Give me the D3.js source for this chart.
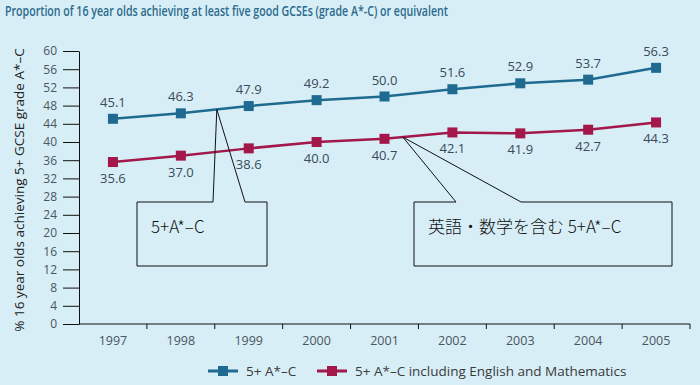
<!DOCTYPE html>
<html lang="en">
<head>
    <meta charset="UTF-8">
    <title>GCSE A*-C proportion</title>
    <style>
        body { margin: 0; background: #d7eef6; }
        .tick text { font-family: "Open Sans", sans-serif; font-size: 12px; fill: #4a5560; }
        .value { font-family: "Open Sans", sans-serif; font-size: 13px; fill: #3a4a5a; }
    </style>
    <script src="https://d3js.org/d3.v7.min.js"></script>
</head>
<body>
    <div id="chart"></div>
    <script>
        const width = 700;
        const height = 385;

        // data
        const years = ["1997", "1998", "1999", "2000", "2001", "2002", "2003", "2004", "2005"];
        const allGrades = [45.1, 46.3, 47.9, 49.2, 50.0, 51.6, 52.9, 53.7, 56.3];
        const withEngMaths = [35.6, 37.0, 38.6, 40.0, 40.7, 42.1, 41.9, 42.7, 44.3];
        const yTicks = [0, 4, 8, 12, 16, 20, 24, 28, 32, 36, 40, 44, 48, 52, 56, 60];
        const seriesNames = ["5+ A*\u2013C", "5+ A*\u2013C including English and Mathematics"];
        const seriesColors = ["#1f6a90", "#a3174b"];

        const svg = d3.select("#chart").append("svg")
            .attr("width", width)
            .attr("height", height);

        svg.append("rect").attr("width", width).attr("height", height).attr("fill", "#d7eef6");

        const x = d3.scaleBand().domain(years).range([79, 690]);
        const y = d3.scaleLinear().domain([0, 60]).range([324, 51]);
        const cx = d => x(d) + x.bandwidth() / 2;

        // title
        svg.append("text")
            .attr("x", 5)
            .attr("y", 16)
            .attr("font-family", "'Open Sans', sans-serif")
            .attr("font-size", 14)
            .attr("font-weight", 600)
            .attr("fill", "#2b6a8c")
            .attr("textLength", 443)
            .attr("lengthAdjust", "spacingAndGlyphs")
            .text("Proportion of 16 year olds achieving at least five good GCSEs (grade A*-C) or equivalent");

        // y axis
        const yAxis = svg.append("g")
            .attr("transform", "translate(79,0)")
            .call(d3.axisLeft(y).tickValues(yTicks).tickSize(16).tickSizeOuter(0).tickPadding(6));
        yAxis.selectAll("line").attr("stroke", "#111");
        yAxis.select(".domain").attr("stroke", "#111");
        yAxis.selectAll("text").attr("font-size", 13);

        svg.append("text")
            .attr("transform", "translate(24,190) rotate(-90)")
            .attr("text-anchor", "middle")
            .attr("font-family", "'Open Sans', sans-serif")
            .attr("font-size", 13.5)
            .attr("fill", "#222")
            .text("% 16 year olds achieving 5+ GCSE grade A*\u2013C");

        // x axis: line, boundary ticks, centred labels
        const xAxis = svg.append("g").attr("transform", "translate(0,324)");
        xAxis.append("line")
            .attr("x1", x.range()[0]).attr("x2", x.range()[1])
            .attr("stroke", "#111");
        const bounds = years.slice(1).map(d => x(d)).concat([x.range()[1]]);
        xAxis.selectAll(".bt").data(bounds).join("line")
            .attr("class", "bt")
            .attr("x1", d => d).attr("x2", d => d)
            .attr("y1", 0).attr("y2", 5)
            .attr("stroke", "#111");
        xAxis.selectAll(".xl").data(years).join("text")
            .attr("class", "xl")
            .attr("x", d => cx(d))
            .attr("y", 21)
            .attr("text-anchor", "middle")
            .attr("font-family", "'Open Sans', sans-serif")
            .attr("font-size", 12.5)
            .attr("fill", "#4a5560")
            .text(d => d);

        // series
        const series = [allGrades, withEngMaths];
        const line = d3.line().x((d, i) => cx(years[i])).y(d => y(d));

        series.forEach((vals, s) => {
            svg.append("path")
                .datum(vals)
                .attr("fill", "none")
                .attr("stroke", seriesColors[s])
                .attr("stroke-width", 2.5)
                .attr("d", line);
            svg.selectAll(".m" + s).data(vals).join("rect")
                .attr("class", "m" + s)
                .attr("x", (d, i) => cx(years[i]) - 5)
                .attr("y", d => y(d) - 5)
                .attr("width", 10)
                .attr("height", 10)
                .attr("fill", seriesColors[s]);
            svg.selectAll(".v" + s).data(vals).join("text")
                .attr("class", "value")
                .attr("x", (d, i) => cx(years[i]))
                .attr("y", d => s === 0 ? y(d) - 12 : y(d) + 21)
                .attr("text-anchor", "middle")
                .text(d => d.toFixed(1));
        });

        // callouts (apex sits on the series line between two years)
        const callouts = [
            { series: 0, from: 1, t: 0.53, box: [137, 202, 267, 266], gap: [213, 245], label: "5+A*\u2013C", tx: 151 },
            { series: 1, from: 4, t: 0.27, box: [414, 202, 672, 266], gap: [456, 521], label: "英語・数学を含む 5+A*\u2013C", tx: 428 }
        ];

        callouts.forEach(c => {
            const vals = series[c.series];
            const x0 = cx(years[c.from]), x1 = cx(years[c.from + 1]);
            const ax = x0 + (x1 - x0) * c.t;
            const ay = y(vals[c.from] + (vals[c.from + 1] - vals[c.from]) * c.t);
            const [l, t, r, b] = c.box;
            const p = d3.path();
            p.moveTo(l, t);
            p.lineTo(c.gap[0], t);
            p.lineTo(ax, ay);
            p.lineTo(c.gap[1], t);
            p.lineTo(r, t);
            p.lineTo(r, b);
            p.lineTo(l, b);
            p.closePath();
            svg.append("path")
                .attr("d", p.toString())
                .attr("fill", "none")
                .attr("stroke", "#111")
                .attr("stroke-width", 1);
            svg.append("text")
                .attr("x", c.tx)
                .attr("y", 233)
                .attr("font-family", "'Noto Sans CJK JP', sans-serif")
                .attr("font-weight", 300)
                .attr("font-size", 17)
                .attr("fill", "#111")
                .text(c.label);
        });

        // legend
        const legendX = [208, 317];
        const legend = svg.append("g").attr("transform", "translate(0,371)");
        seriesNames.forEach((name, s) => {
            const g = legend.append("g").attr("transform", `translate(${legendX[s]},0)`);
            g.append("line").attr("x1", 0).attr("x2", 30)
                .attr("stroke", seriesColors[s]).attr("stroke-width", 3);
            g.append("rect").attr("x", 10).attr("y", -5).attr("width", 10).attr("height", 10)
                .attr("fill", seriesColors[s]);
            g.append("text")
                .attr("x", 38).attr("y", 5)
                .attr("font-family", "'Open Sans', sans-serif")
                .attr("font-size", 13.5)
                .attr("fill", "#3a3a3a")
                .text(name);
        });
    </script>
</body>
</html>
